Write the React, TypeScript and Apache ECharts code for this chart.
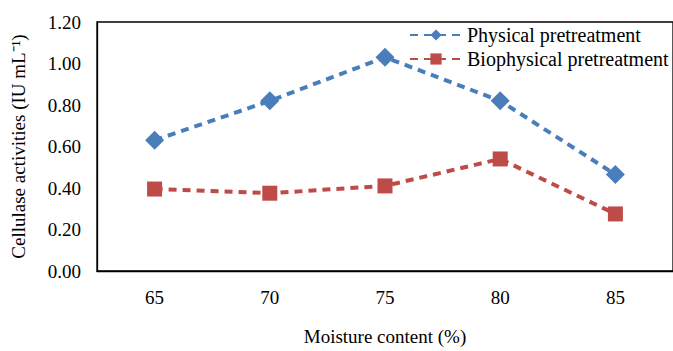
import React, { useEffect, useRef } from "react";
import * as echarts from "echarts";

const categories = ["65", "70", "75", "80", "85"];
const physical = [0.63, 0.82, 1.03, 0.82, 0.465];
const biophysical = [0.395, 0.375, 0.41, 0.54, 0.275];
const seriesNames = ["Physical pretreatment", "Biophysical pretreatment"];

const FONT = "Liberation Serif";

export default function App() {
  const ref = useRef<HTMLDivElement>(null);
  useEffect(() => {
    const chart = echarts.init(ref.current!, null, { renderer: "svg" });
    chart.setOption({
      animation: false,
      textStyle: { fontFamily: FONT },
      grid: {
        left: 97,
        right: -3,
        top: 22,
        bottom: 76,
        show: true,
        borderColor: "#000",
        borderWidth: 1.3,
        containLabel: false,
      },
      legend: {
        left: 404,
        top: 20,
        orient: "vertical",
        itemWidth: 52,
        itemHeight: 14,
        itemGap: 4,
        textStyle: { fontFamily: FONT, fontSize: 20, color: "#000" },
        data: seriesNames,
      },
      xAxis: {
        type: "category",
        data: categories,
        boundaryGap: true,
        axisLine: { lineStyle: { color: "#000", width: 1.3 } },
        axisTick: { show: false },
        axisLabel: { fontFamily: FONT, fontSize: 19, color: "#000", margin: 17 },
        name: "Moisture content (%)",
        nameLocation: "middle",
        nameGap: 56,
        nameTextStyle: { fontFamily: FONT, fontSize: 19, color: "#000" },
      },
      yAxis: {
        type: "value",
        min: 0,
        max: 1.2,
        interval: 0.2,
        splitLine: { show: false },
        axisLine: { show: true, lineStyle: { color: "#000", width: 1.3 } },
        axisTick: { show: false },
        axisLabel: {
          fontFamily: FONT,
          fontSize: 19,
          color: "#000",
          margin: 16,
          formatter: (v: number) => v.toFixed(2),
        },
        name: "Cellulase activities (IU mL\u207B\u00B9)",
        nameLocation: "middle",
        nameGap: 69,
        nameTextStyle: { fontFamily: FONT, fontSize: 19, color: "#000" },
      },
      series: [
        {
          name: seriesNames[0],
          type: "line",
          data: physical,
          symbol: "diamond",
          symbolSize: 19,
          itemStyle: { color: "#4a7ebb" },
          lineStyle: { color: "#4a7ebb", width: 4, type: [8, 6] },
        },
        {
          name: seriesNames[1],
          type: "line",
          data: biophysical,
          symbol: "rect",
          symbolSize: 15,
          itemStyle: { color: "#be4b48" },
          lineStyle: { color: "#be4b48", width: 4, type: [8, 6] },
        },
      ],
    });
    return () => chart.dispose();
  }, []);
  return (
    <div
      ref={ref}
      style={{ position: "absolute", left: 0, top: 0, width: 673, height: 351 }}
    />
  );
}
